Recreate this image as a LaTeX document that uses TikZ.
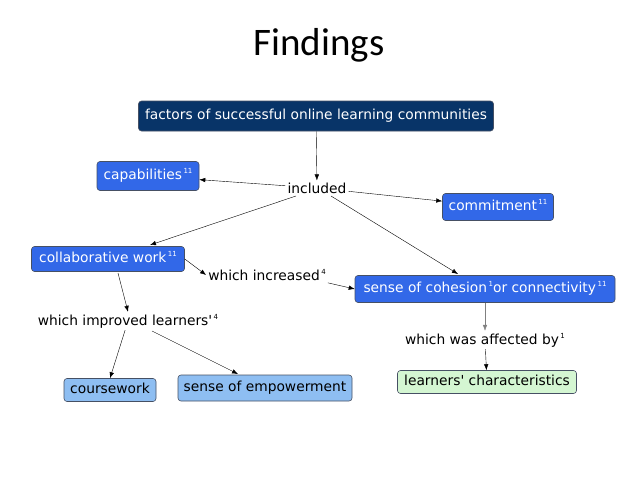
\documentclass[tikz,border=0pt]{standalone}
\usepackage{fontspec}
\setmainfont{DejaVu Sans}
\newfontfamily\titlefont{Carlito}
\usetikzlibrary{arrows.meta}
\definecolor{navy}{RGB}{8,52,104}
\definecolor{cblue}{RGB}{50,104,232}
\definecolor{lblue}{RGB}{142,190,242}
\definecolor{lgreen}{RGB}{212,246,210}
\definecolor{bord}{RGB}{70,80,100}
\newcommand{\supn}[1]{\kern1.5pt\raisebox{6pt}{\fontsize{7}{7}\selectfont #1}}
\newcommand{\apos}{\textquotesingle}
\tikzset{
  box/.style={rounded corners=3pt, draw=bord, line width=0.6pt, inner xsep=3pt, inner ysep=4pt, font=\fontsize{13.8}{16}\selectfont, text height=10pt, text depth=3pt},
  navybox/.style={box, fill=navy, text=white},
  bluebox/.style={box, fill=cblue, text=white},
  lbbox/.style={box, fill=lblue, text=black},
  lgbox/.style={box, fill=lgreen, text=black},
  lbl/.style={inner sep=2pt, font=\fontsize{13.8}{16}\selectfont, text=black},
  arr/.style={-{Latex[length=6pt,width=4.5pt]}, line width=0.4pt, black}
}
\begin{document}
\begin{tikzpicture}[x=1pt,y=-1pt]
\useasboundingbox (0,0) rectangle (638,479);
\fill[white] (0,0) rectangle (638,479);
\node[font=\titlefont\fontsize{39}{46}\selectfont] (title) at (319,45) {Findings};
\node[navybox, minimum width=355pt, minimum height=30pt] (top) at (316,116) {factors of successful online learning communities};
\node[lbl] (inc) at (317,188) {included};
\node[bluebox, minimum width=102pt, minimum height=29pt] (cap) at (148,176) {capabilities\supn{11}};
\node[bluebox, minimum width=111pt, minimum height=27pt] (com) at (498,207) {commitment\supn{11}};
\node[bluebox, minimum width=153pt, minimum height=25pt] (col) at (108,259) {collaborative work\supn{11}};
\node[lbl] (winc) at (267,275) {which increased\supn{4}};
\node[bluebox, minimum width=260pt, minimum height=27pt] (coh) at (485,289) {sense of cohesion\supn{1}or connectivity\supn{11}};
\node[lbl] (wimp) at (128,321) {which improved learners\apos\supn{4}};
\node[lbl] (waff) at (485,340) {which was affected by\supn{1}};
\node[lbbox, minimum width=92pt, minimum height=23pt] (cw) at (110,390) {coursework};
\node[lbbox, minimum width=174pt, minimum height=26pt] (emp) at (265,388) {sense of empowerment};
\node[lgbox, minimum width=179pt, minimum height=23pt] (lc) at (487,382) {learners\apos\ characteristics};
\coordinate (cs) at (118,273);
\coordinate (incsw) at (296,196);
\coordinate (incse) at (331,196);
\coordinate (colin) at (150,245);
\coordinate (cohin) at (458,274);
\coordinate (wimpse) at (152,331);
\coordinate (empin) at (238,374);
\draw[arr] (top) -- (inc);
\draw[arr] (inc) -- (cap);
\draw[arr] (inc) -- (com);
\draw[arr] (incsw) -- (colin);
\draw[arr] (incse) -- (cohin);
\draw[arr] (col.east) -- (winc.west);
\draw[arr] (winc.south east) -- (coh.west);
\draw[arr] (cs) -- (wimp.north);
\draw[arr] (wimp) -- (cw.north);
\draw[arr] (wimpse) -- (empin);
\draw[arr, draw=gray] (coh) -- (waff);
\draw[arr] (waff) -- (lc);
\end{tikzpicture}
\end{document}
